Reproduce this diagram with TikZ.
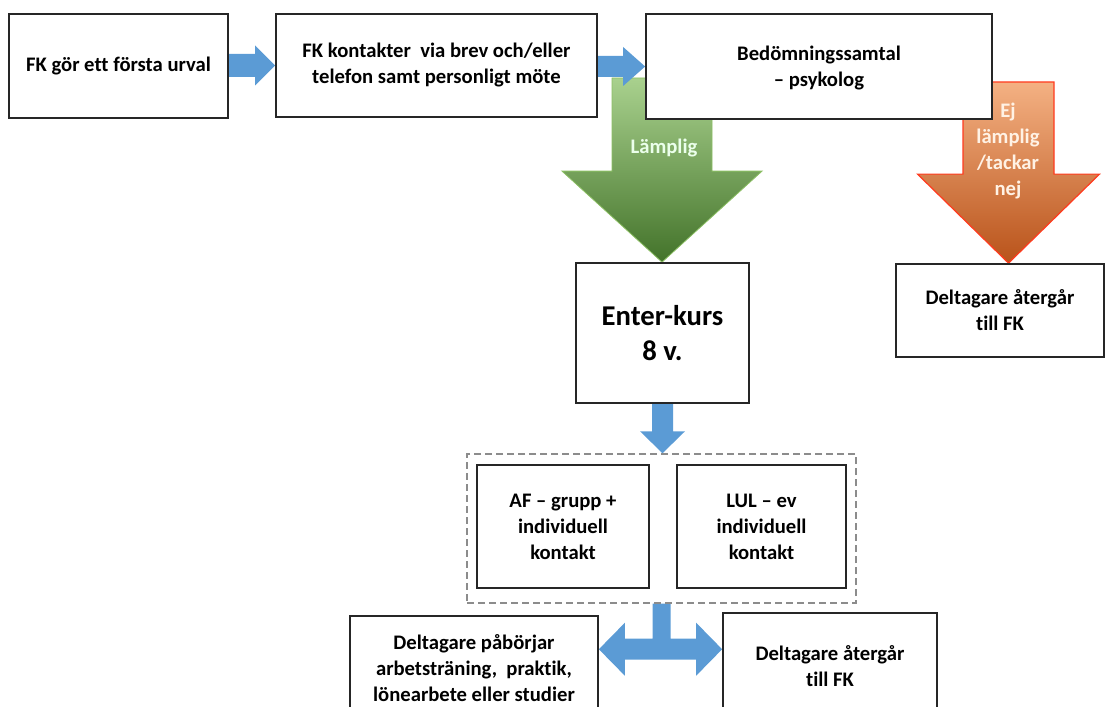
\documentclass[tikz,border=0pt]{standalone}
\usepackage{fontspec}
\setmainfont{Carlito}[Ligatures = NoCommon]
\usetikzlibrary{calc,backgrounds}

\definecolor{arrowblue}{HTML}{5B9BD5}
\definecolor{greentop}{HTML}{A9D18E}
\definecolor{greenbot}{HTML}{43732A}
\definecolor{greenedge}{HTML}{8CBF64}
\definecolor{orangetop}{HTML}{F4B183}
\definecolor{orangebot}{HTML}{B9531A}
\definecolor{orangeedge}{HTML}{FF3B1F}

\tikzset{
  box/.style = {draw = black!85, line width = 1.3pt, fill = white, align = center, inner sep = 2pt},
  bluearrow/.style = {fill = arrowblue},
  okarrow/.style = {draw = greenedge, line width = 0.6pt, top color = greentop, bottom color = greenbot},
  noarrow/.style = {draw = orangeedge, line width = 0.9pt, top color = orangetop, bottom color = orangebot},
}

% block arrow from the east side of #2 to the west side of #3
\newcommand{\blockright}[6]{%
  \path[#1] ($(#2.east |- #3.west)+(0,-#4)$) -- ($(#3.west)+(-#6,-#4)$) -- ($(#3.west)+(-#6,-#5)$) -- (#3.west)
    -- ($(#3.west)+(-#6,#5)$) -- ($(#3.west)+(-#6,#4)$) -- ($(#2.east |- #3.west)+(0,#4)$) -- cycle;}
% block arrow from #2 down to the level of #3
\newcommand{\blockdown}[6]{%
  \path[#1] ($(#2)+(-#4,0)$) -- ($(#2 |- #3)+(-#4,-#6)$) -- ($(#2 |- #3)+(-#5,-#6)$) -- (#2 |- #3)
    -- ($(#2 |- #3)+(#5,-#6)$) -- ($(#2 |- #3)+(#4,-#6)$) -- ($(#2)+(#4,0)$) -- cycle;}

\begin{document}
\begin{tikzpicture}[x = 0.75pt, y = -0.75pt, font = \fontsize{15.5}{19.5}\selectfont\bfseries]
    \useasboundingbox (0,0) rectangle (1105,706);

    % top row
    \node (urval) at (118.5,66) [box, minimum width = 164.25pt, minimum height = 78pt] {FK gör ett första urval};
    \node (kontakt) at (436.5,65.5) [box, minimum width = 240.75pt, minimum height = 77.25pt] {FK kontakter\ \ via brev och/eller\\telefon samt personligt möte};
    \node (samtal) at (819,66.5) [box, minimum width = 259.5pt, minimum height = 78.75pt, text depth = -4pt] {Bedömningssamtal\\– psykolog};

    % after the assessment
    \node (kurs) at (662.5,333) [box, minimum width = 129.75pt, minimum height = 105pt, font = \fontsize{21.5}{26}\selectfont\bfseries] {Enter-kurs\\8 v.};
    \node (tillbaka) at (1000,310.5) [box, minimum width = 156pt, minimum height = 69.75pt] {Deltagare återgår\\till FK};

    % during the course
    \node (kursram) at (661.5,528.5) [draw = gray!90, dash pattern = on 5.25pt off 3pt, line width = 1.1pt, minimum width = 291.75pt, minimum height = 111.75pt] {};
    \node (af) at (563,526.5) [box, minimum width = 129pt, minimum height = 92.25pt] {AF – grupp +\\individuell\\kontakt};
    \node (lul) at (761.5,526.5) [box, minimum width = 126.75pt, minimum height = 92.25pt] {LUL – ev\\individuell\\kontakt};

    % after the course
    \node (arbete) at (474,668) [box, minimum width = 186pt, minimum height = 78pt] {Deltagare påbörjar\\arbetsträning,\ \ praktik,\\lönearbete eller studier};
    \node (tillbaka2) at (830,666.5) [box, minimum width = 160.5pt, minimum height = 80.25pt] {Deltagare återgår\\till FK};

    \node (lamplig) at (664,148) [text = green!8] {Lämplig};
    \node (ejlamplig) at (1008,151) [text = orange!10, align = center] {Ej\\lämplig\\/tackar\\nej};

    \begin{scope}[on background layer]
        \coordinate (lamptop) at (662,78);
        \coordinate (ejtop) at (1008.5,82);
        \blockdown{okarrow}{lamptop}{kurs.north}{50}{100}{91}
        \blockdown{noarrow}{ejtop}{tillbaka.north}{45.5}{91}{89}
        \blockright{bluearrow}{urval}{kontakt}{11.5}{20}{20}
        \blockright{bluearrow}{kontakt}{samtal}{10.5}{19.5}{22}
        \blockdown{bluearrow}{kurs.south}{kursram.north}{10.5}{22.5}{22}

        % split into two ways
        \coordinate (fork) at ($(kursram.south)+(0,45.5)$);
        \path[bluearrow] ($(kursram.south)+(-9,0)$) -- ($(fork)+(-9,-10.5)$)
            -- ($(arbete.east |- fork)+(26,-10.5)$) -- ($(arbete.east |- fork)+(26,-26.5)$) -- (arbete.east |- fork)
            -- ($(arbete.east |- fork)+(26,26.5)$) -- ($(arbete.east |- fork)+(26,10.5)$)
            -- ($(tillbaka2.west |- fork)+(-26,10.5)$) -- ($(tillbaka2.west |- fork)+(-26,26.5)$) -- (tillbaka2.west |- fork)
            -- ($(tillbaka2.west |- fork)+(-26,-26.5)$) -- ($(tillbaka2.west |- fork)+(-26,-10.5)$)
            -- ($(fork)+(9,-10.5)$) -- ($(kursram.south)+(9,0)$) -- cycle;
    \end{scope}
\end{tikzpicture}
\end{document}
